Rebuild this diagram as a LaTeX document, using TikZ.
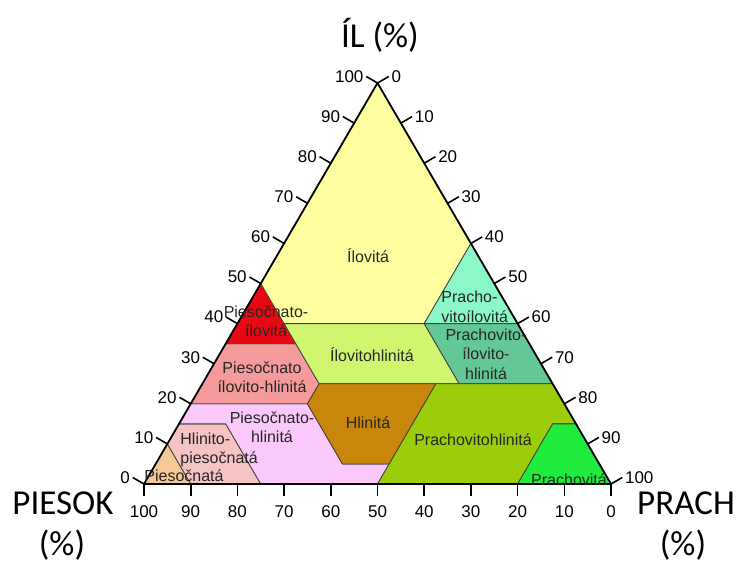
\documentclass[tikz,border=0pt]{standalone}
\usepackage{fontspec}
\setmainfont{Liberation Sans}
\newfontfamily\titlefont{Carlito}
\usepackage{tikz}

\definecolor{ilovitac}{RGB}{255,255,160}
\definecolor{pieilc}{RGB}{232,8,18}
\definecolor{prilc}{RGB}{140,248,200}
\definecolor{ilhlc}{RGB}{208,246,112}
\definecolor{prilhlc}{RGB}{100,200,150}
\definecolor{pieilhlc}{RGB}{245,155,155}
\definecolor{hlinitac}{RGB}{200,135,10}
\definecolor{piehlc}{RGB}{250,200,250}
\definecolor{hlpiec}{RGB}{245,196,194}
\definecolor{piesc}{RGB}{245,200,150}
\definecolor{prhlc}{RGB}{155,205,10}
\definecolor{prachc}{RGB}{30,235,60}

\tikzset{
  zone/.style={draw=black!75, line width=0.8pt, line join=round},
  zonetext/.style={font=\fontsize{16}{19.5}\selectfont, text=black!85, align=center, inner sep=0pt},
  ticknum/.style={font=\fontsize{17}{20}\selectfont, inner sep=2pt},
  axistitle/.style={font=\titlefont\fontsize{35}{40}\selectfont, inner sep=0pt}
}

\begin{document}
\begin{tikzpicture}[x=1pt, y=-1pt, thick]
		\useasboundingbox (0,0) rectangle (741,563);

		% Triangle, points are (silt, clay) in here
		\begin{scope}[shift={(144,484)}, x={(4.67pt,0pt)}, y={(2.335pt,4.01pt)}]
			\coordinate (sand) at (0,0);
			\coordinate (silt) at (100,0);
			\coordinate (clay) at (0,100);

			% Regions
			\filldraw[zone, fill=piesc] (0,0) -- (0,10) -- (10,0) -- cycle;
			\filldraw[zone, fill=hlpiec] (0,10) -- (0,15) -- (10,15) -- (25,0) -- (10,0) -- cycle;
			\filldraw[zone, fill=piehlc] (0,15) -- (0,20) -- (25,20) -- (40,5) -- (50,5) -- (50,0) -- (25,0) -- (10,15) -- cycle;
			\filldraw[zone, fill=pieilhlc] (0,20) -- (0,35) -- (15,35) -- (25,25) -- (25,20) -- cycle;
			\filldraw[zone, fill=pieilc] (0,35) -- (0,50) -- (15,35) -- cycle;
			\filldraw[zone, fill=ilovitac] (clay) -- (0,50) -- (10,40) -- (40,40) -- (40,60) -- cycle;
			\filldraw[zone, fill=prilc] (40,60) -- (40,40) -- (60,40) -- cycle;
			\filldraw[zone, fill=ilhlc] (10,40) -- (40,40) -- (55,25) -- (25,25) -- (15,35) -- cycle;
			\filldraw[zone, fill=prilhlc] (40,40) -- (60,40) -- (75,25) -- (55,25) -- cycle;
			\filldraw[zone, fill=hlinitac] (25,25) -- (50,25) -- (50,5) -- (40,5) -- (25,20) -- cycle;
			\filldraw[zone, fill=prhlc] (50,0) -- (50,25) -- (75,25) -- (85,15) -- (80,15) -- (80,0) -- cycle;
			\filldraw[zone, fill=prachc] (80,0) -- (80,15) -- (85,15) -- (silt) -- cycle;

			% Outline
			\draw[line width=1.8pt, line join=round] (sand) -- (silt) -- (clay) -- cycle;

			% Ticks and numbers
			\foreach \v in {0,10,...,100}{
				\pgfmathtruncatemacro{\w}{100-\v}
				\draw[line width=1.6pt] (0,\v) -- ++(150:13pt) node[ticknum, anchor=east] (cl\v) {\v};
				\draw[line width=1.6pt] (\v,\w) -- ++(30:13pt) node[ticknum, anchor=west] (si\v) {\v};
				\draw[line width=1.6pt] (\v,0) -- ++(-90:12pt) node[ticknum, anchor=north, yshift=-7pt] (sa\v) {\w};
			}
		\end{scope}

		% Class names
		\node[zonetext] (ilovita) at (368,256) {Ílovitá};
		\node[zonetext] (pieil) at (266,321) {Piesočnato-\\ílovitá};
		\node[zonetext] (pieilhl) at (262,377) {Piesočnato\\ílovito-hlinitá};
		\node[zonetext] (piehl) at (272,427) {Piesočnato-\\hlinitá};
		\node[zonetext, align=left, anchor=west] (hlpie) at (180,450) {Hlinito-\\piesočnatá};
		\node[zonetext] (pies) at (184,476) {Piesočnatá};
		\node[zonetext] (hlinita) at (368,423) {Hlinitá};
		\node[zonetext] (ilhl) at (372,355) {Ílovitohlinitá};
		\node[zonetext, align=left, anchor=west] (pril) at (441,307) {Pracho-\\vitoílovitá};
		\node[zonetext] (prilhl) at (486,354) {Prachovito-\\ílovito-\\hlinitá};
		\node[zonetext] (prhl) at (473,440) {Prachovitohlinitá};
		\node[zonetext] (prach) at (569,480) {Prachovitá};

		% Axis titles
		\node[axistitle] (iltitle) at (380,35) {ÍL (\%)};
		\node[axistitle] (piesok) at (63,503) {PIESOK};
		\node[axistitle] (piesokpct) at (62,545) {(\%)};
		\node[axistitle] (prachtitle) at (686,503) {PRACH};
		\node[axistitle] (prachpct) at (683,545) {(\%)};
	\end{tikzpicture}
\end{document}
